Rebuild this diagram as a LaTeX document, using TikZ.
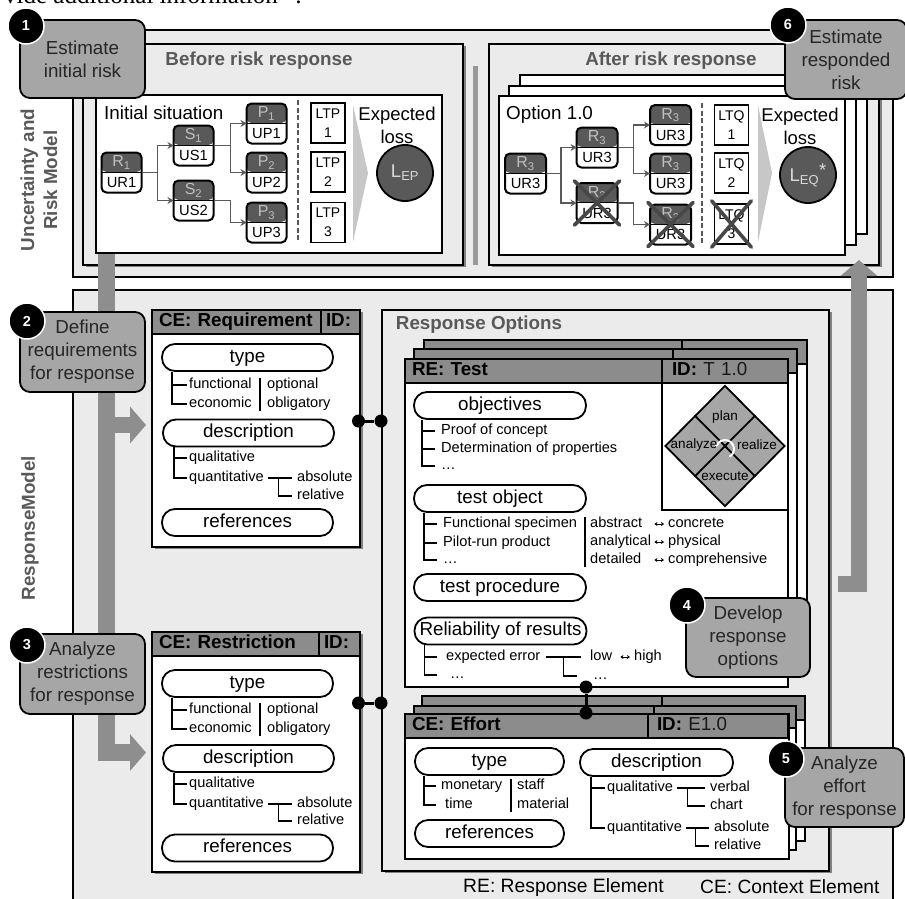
\documentclass[tikz,border=0pt]{standalone}
\usepackage{fontspec}
\setmainfont{Liberation Sans}
\newfontfamily\bookfont{Liberation Serif}
\usetikzlibrary{shapes.geometric,shadows,arrows.meta,calc}
\definecolor{panelgray}{HTML}{EBEBEB}
\definecolor{headgray}{HTML}{8C8C8C}
\definecolor{darkgray}{HTML}{595959}
\definecolor{stepgray}{HTML}{A6A6A6}
\definecolor{flowgray}{HTML}{8E8E8E}
\begin{document}
\begin{tikzpicture}[
    x = 1pt,
    y = -1pt,
    >=stealth,
    panel/.style = {rectangle, draw=black, line width=1.8pt, fill=panelgray,
              anchor=north west, inner sep=0pt, outer sep=0pt},
    sheet/.style = {panel, fill=white},
    shade/.style = {drop shadow={shadow xshift=2.5pt, shadow yshift=-2pt,
              opacity=0.45, fill=black}},
    head/.style = {panel, fill=headgray, align=left, inner xsep=7pt, minimum height=24pt,
              text height=13pt, text depth=4pt, font=\fontsize{18.8}{23}\selectfont\bfseries},
    title/.style = {text=darkgray, inner sep=0pt, font=\fontsize{18.8}{23}\selectfont\bfseries},
    plain/.style = {inner sep=0pt, align=center, font=\fontsize{18.8}{23}\selectfont},
    callout/.style = {rectangle, rounded corners=10pt, draw=black, line width=1.8pt,
              fill=stepgray, text=black!85, align=center, inner sep=0pt,
              font=\fontsize{18.8}{23}\selectfont},
    stepnum/.style = {circle, fill=black, draw=white, line width=1.5pt, text=white,
              minimum size=36pt, inner sep=0pt, font=\fontsize{14.5}{15}\selectfont\bfseries},
    pill/.style = {rectangle, rounded corners=13pt, draw=black, line width=1.8pt, fill=white,
              minimum height=27pt, inner sep=0pt, text height=13pt, text depth=4pt,
              font=\fontsize{18.8}{23}\selectfont},
    item/.style = {anchor=west, inner ysep=0pt, inner xsep=2pt, text height=10pt, text depth=3pt,
              font=\fontsize{14.6}{16}\selectfont},
    itemfar/.style = {item, inner xsep=6pt},
    tree/.style = {draw=black, line width=1.3pt},
    gap/.style = {shorten <=2pt, shorten >=3pt},
    pair/.style = {<->, draw=black, line width=0.8pt, >={Stealth[length=3pt,width=4pt]}},
    riskbox/.style = {rectangle, rounded corners=5pt, draw=black, line width=2pt, fill=white,
              minimum width=40pt, minimum height=40pt, inner sep=0pt, outer sep=0pt,
              path picture={\fill[darkgray] (path picture bounding box.north west)
                rectangle ([yshift=-19.5pt]path picture bounding box.north east);
                \draw[black, line width=0.8pt] ([yshift=-19.5pt]path picture bounding box.north west)
                -- ([yshift=-19.5pt]path picture bounding box.north east);}},
    risktop/.style = {yshift=10pt, text=black!25, inner sep=0pt, font=\fontsize{16}{16}\selectfont},
    riskbot/.style = {yshift=-10pt, inner sep=0pt, font=\fontsize{14.7}{15}\selectfont},
    lossbox/.style = {rectangle, draw=black, line width=1.8pt, fill=white, align=center,
              minimum width=34pt, minimum height=40pt, inner sep=0pt,
              font=\fontsize{14}{19}\selectfont},
    lossdot/.style = {circle, draw=black, line width=1.8pt, fill=darkgray, text=black!15,
              minimum size=56pt, inner sep=0pt, font=\fontsize{18.5}{20}\selectfont},
    link/.style = {->, draw=darkgray, line width=1.5pt, >={Stealth[length=6pt,width=7pt]}},
    dashline/.style = {draw=darkgray, line width=1.8pt, dash pattern=on 5pt off 2.5pt},
    cross/.style = {draw=black!72, line width=3.6pt, line cap=round, shorten <=-3pt, shorten >=-3pt},
    dot/.style = {circle, fill=black, minimum size=13pt, inner sep=0pt},
    bond/.style = {draw=black, line width=3pt},
    flow/.style = {draw=flowgray, line width=16.5pt},
    flowtip/.style = {flow, -{Triangle[length=16pt,width=36pt]}},
    ]

\useasboundingbox (0,0) rectangle (905,898);

\node[anchor=base west, inner sep=0pt, font=\fontsize{25}{25}\selectfont\bookfont] (cut_line) at (4,3.5) {vide additional information” :};

% uncertainty and risk model
\node[panel, minimum width=820pt, minimum height=247pt] (risk_model) at (73,30){};
\node[panel, minimum width=820pt, minimum height=620pt] (response_model) at (73,290){};

\node[title, rotate=90, align=center] (risk_label) at (39,180) {Uncertainty and\\Risk Model};
\node[title, rotate=90] (response_label) at (30,528) {ResponseModel};

\node[panel, shade, minimum width=380pt, minimum height=221pt] (before) at (83,44){};
\node[sheet, minimum width=346pt, minimum height=158pt] (before_sheet) at (96,95){};
\node[title] (before_title) at (259,61) {Before risk response};
\node[plain, anchor=west] (initial) at (104,112.5) {Initial situation};

\node[riskbox, label={[risktop]center:R\textsubscript{1}}, label={[riskbot]center:UR1}] (R_1) at (121.5,172.5){};
\node[riskbox, label={[risktop]center:S\textsubscript{1}}, label={[riskbot]center:US1}] (S_1) at (193.5,145.5){};
\node[riskbox, label={[risktop]center:S\textsubscript{2}}, label={[riskbot]center:US2}] (S_2) at (193.5,200.5){};
\node[riskbox, label={[risktop]center:P\textsubscript{1}}, label={[riskbot]center:UP1}] (P_1) at (266.5,123.5){};
\node[riskbox, label={[risktop]center:P\textsubscript{2}}, label={[riskbot]center:UP2}] (P_2) at (266.5,172.5){};
\node[riskbox, label={[risktop]center:P\textsubscript{3}}, label={[riskbot]center:UP3}] (P_3) at (266.5,222.5){};
\draw[link] (R_1.east) -- ++(16,0) |- (S_1.west);
\draw[link] (R_1.east) -- ++(16,0) |- (S_2.west);
\draw[link] (S_1.east) -- ++(17,0) |- (P_1.west);
\draw[link] (S_1.east) -- ++(17,0) |- (P_2.west);
\draw[link] (S_2.east) -- ++(17,0) |- (P_3.west);

\coordinate (before_dash_a) at (298,100);
\coordinate (before_dash_b) at (298,242);
\draw[dashline] (before_dash_a) -- (before_dash_b);

\node[lossbox] (LTP_1) at (328,123) {LTP\\1};
\node[lossbox] (LTP_2) at (328,172) {LTP\\2};
\node[lossbox] (LTP_3) at (328,222.5) {LTP\\3};
\fill[black!22] (353,105) -- (368,173) -- (353,242) -- cycle;
\node[plain, font=\fontsize{18.5}{23}\selectfont] (before_loss) at (397,125.5) {Expected\\loss};
\node[lossdot] (L_EP) at (405,173) {L\textsubscript{EP}};

% after the response
\node[panel, shade, minimum width=390pt, minimum height=221pt] (after) at (489,44){};
\node[rectangle, fill=black!40, minimum width=5pt, minimum height=199pt, inner sep=0pt, anchor=north] (split_bar) at (475,66){};
\node[title] (after_title) at (671,61) {After risk response};
\node[sheet, minimum width=347pt, minimum height=159pt] (after_back) at (520,75){};
\node[sheet, minimum width=347pt, minimum height=159pt] (after_mid) at (509,86){};
\node[sheet, minimum width=346pt, minimum height=159pt] (after_sheet) at (499,96){};
\node[plain, anchor=west] (option) at (506,115) {Option 1.0};

\node[riskbox, minimum width=41pt, label={[risktop]center:R\textsubscript{3}}, label={[riskbot]center:UR3}] (Q_1) at (525.5,173.5){};
\node[riskbox, minimum width=41pt, label={[risktop]center:R\textsubscript{3}}, label={[riskbot]center:UR3}] (Q_2) at (597,147.5){};
\node[riskbox, minimum width=41pt, label={[risktop]center:R\textsubscript{3}}, label={[riskbot]center:UR3}] (Q_3) at (597,203){};
\node[riskbox, minimum width=41pt, label={[risktop]center:R\textsubscript{3}}, label={[riskbot]center:UR3}] (Q_4) at (670.5,125){};
\node[riskbox, minimum width=41pt, label={[risktop]center:R\textsubscript{3}}, label={[riskbot]center:UR3}] (Q_5) at (670.5,173.5){};
\node[riskbox, minimum width=41pt, label={[risktop]center:R\textsubscript{3}}, label={[riskbot]center:UR3}] (Q_6) at (670.5,224.5){};
\draw[link] (Q_1.east) -- ++(15,0) |- (Q_2.west);
\draw[link] (Q_1.east) -- ++(15,0) |- (Q_3.west);
\draw[link] (Q_2.east) -- ++(16,0) |- (Q_4.west);
\draw[link] (Q_2.east) -- ++(16,0) |- (Q_5.west);
\draw[link] (Q_3.east) -- ++(16,0) |- (Q_6.west);

\coordinate (after_dash_a) at (702,103);
\coordinate (after_dash_b) at (702,243);
\draw[dashline] (after_dash_a) -- (after_dash_b);

\node[lossbox] (LTQ_1) at (731.5,125) {LTQ\\1};
\node[lossbox] (LTQ_2) at (731.5,173) {LTQ\\2};
\node[lossbox] (LTQ_3) at (731.5,224) {LTQ\\3};
\fill[black!22] (758,105) -- (772,173) -- (758,242) -- cycle;
\node[plain, font=\fontsize{18.5}{23}\selectfont] (after_loss) at (800,126) {Expected\\loss};
\node[lossdot] (L_EQ) at (808,175) {L\textsubscript{EQ}\raisebox{5pt}{*}};

\draw[cross] (Q_3.north west) -- (Q_3.south east);
\draw[cross] (Q_3.north east) -- (Q_3.south west);
\draw[cross] (Q_6.north west) -- (Q_6.south east);
\draw[cross] (Q_6.north east) -- (Q_6.south west);
\draw[cross] (LTQ_3.north west) -- (LTQ_3.south east);
\draw[cross] (LTQ_3.north east) -- (LTQ_3.south west);

% requirement
\node[sheet, shade, minimum width=208pt, minimum height=237pt] (req) at (152,310){};
\node[head, text width=155pt] (req_head) at (152,310) {CE: Requirement};
\node[head, inner xsep=5pt, text width=29pt] (req_id) at (321,310) {ID:};
\node[pill, minimum width=171pt] (req_type) at (247.5,357.5) {type};
\node[item] (req_func) at (187,385) {functional};
\node[item] (req_econ) at (187,404) {economic};
\node[item] (req_opt) at (265,385) {optional};
\node[item] (req_obl) at (265,404) {obligatory};
\draw[tree] ([xshift=11pt]req_type.south west) |- (req_func.west);
\draw[tree] ([xshift=11pt]req_type.south west) |- (req_econ.west);
\draw[tree] ([xshift=-5pt]req_opt.north west) -- ([xshift=-5pt]req_obl.south west);
\node[pill, minimum width=171pt] (req_desc) at (248.5,433) {description};
\node[item] (req_qual) at (187,458) {qualitative};
\node[item] (req_quan) at (187,478) {quantitative};
\node[item] (req_abs) at (295,478) {absolute};
\node[item] (req_rel) at (295,496) {relative};
\draw[tree] ([xshift=12pt]req_desc.south west) |- (req_qual.west);
\draw[tree] ([xshift=12pt]req_desc.south west) |- (req_quan.west);
\draw[tree, gap] (req_quan.east) -- (req_abs.west);
\draw[tree, shorten >=3pt] ($(req_quan.east)!0.42!(req_abs.west)$) |- (req_rel.west);
\node[pill, minimum width=171pt] (req_refs) at (247.5,522.5) {references};

% restriction
\node[sheet, shade, minimum width=208pt, minimum height=240pt] (res) at (152,632){};
\node[head, text width=153pt] (res_head) at (152,632) {CE: Restriction};
\node[head, inner xsep=5pt, text width=31pt] (res_id) at (319,632) {ID:};
\node[pill, minimum width=171pt] (res_type) at (247.5,683.5) {type};
\node[item] (res_func) at (187,710) {functional};
\node[item] (res_econ) at (187,729) {economic};
\node[item] (res_opt) at (265,710) {optional};
\node[item] (res_obl) at (265,729) {obligatory};
\draw[tree] ([xshift=11pt]res_type.south west) |- (res_func.west);
\draw[tree] ([xshift=11pt]res_type.south west) |- (res_econ.west);
\draw[tree] ([xshift=-5pt]res_opt.north west) -- ([xshift=-5pt]res_obl.south west);
\node[pill, minimum width=171pt] (res_desc) at (248.5,758.5) {description};
\node[item] (res_qual) at (187,784) {qualitative};
\node[item] (res_quan) at (187,804) {quantitative};
\node[item] (res_abs) at (295,804) {absolute};
\node[item] (res_rel) at (295,821) {relative};
\draw[tree] ([xshift=12pt]res_desc.south west) |- (res_qual.west);
\draw[tree] ([xshift=12pt]res_desc.south west) |- (res_quan.west);
\draw[tree, gap] (res_quan.east) -- (res_abs.west);
\draw[tree, shorten >=3pt] ($(res_quan.east)!0.42!(res_abs.west)$) |- (res_rel.west);
\node[pill, minimum width=171pt] (res_refs) at (247.5,848) {references};

% response options
\node[panel, shade, minimum width=447pt, minimum height=561pt] (options) at (382,310){};
\node[title] (options_title) at (479,325) {Response Options};

\node[sheet, minimum width=383pt, minimum height=318pt] (test_back) at (424,340){};
\node[head, minimum width=258pt] (test_back_a) at (424,340) {};
\node[head, minimum width=125pt] (test_back_b) at (682,340) {};
\node[sheet, minimum width=383pt, minimum height=319pt] (test_mid) at (414,349){};
\node[head, minimum width=259pt] (test_mid_a) at (414,349) {};
\node[head, minimum width=124pt] (test_mid_b) at (673,349) {};
\node[sheet, minimum width=383pt, minimum height=328pt] (test) at (405,359){};
\node[head, text width=243pt] (test_head) at (405,359) {RE: Test};
\node[head, inner xsep=10pt, text width=106pt] (test_id) at (662,359) {ID: {\mdseries\color{black!90}T 1.0}};

\node[sheet, minimum width=126pt, minimum height=127pt] (pdca_box) at (662,383){};
\node[diamond, draw=black, line width=1.8pt, fill=stepgray, minimum width=120pt, minimum height=121pt, inner sep=0pt] (pdca) at (725,446){};
\draw[black, line width=1.8pt] (pdca.north west) -- (pdca.south east);
\draw[black, line width=1.8pt] (pdca.north east) -- (pdca.south west);
\coordinate (pdca_turn) at ($(pdca.center)+(0,3)$);
\draw[white, line width=2pt, -{Stealth[length=4pt,width=5pt]}] ([shift={(-60:9pt)}]pdca_turn) arc[start angle=-60, end angle=170, radius=9pt];
\node[inner sep=0pt, font=\fontsize{13.5}{14}\selectfont] (plan) at (725,417) {plan};
\node[inner sep=0pt, font=\fontsize{13.5}{14}\selectfont] (analyze) at (694,445) {analyze};
\node[inner sep=0pt, font=\fontsize{13.5}{14}\selectfont] (realize) at (757,445) {realize};
\node[inner sep=0pt, font=\fontsize{13.5}{14}\selectfont] (execute) at (725,476) {execute};

\node[pill, minimum width=172pt] (objectives) at (500,405.5) {objectives};
\node[itemfar] (obj_a) at (435,431) {Proof of concept};
\node[itemfar] (obj_b) at (435,449) {Determination of properties};
\node[itemfar] (obj_c) at (435,466) {…};
\draw[tree] ([xshift=9pt]objectives.south west) |- (obj_a.west);
\draw[tree] ([xshift=9pt]objectives.south west) |- (obj_b.west);
\draw[tree] ([xshift=9pt]objectives.south west) |- (obj_c.west);

\node[pill, minimum width=172pt] (test_object) at (500,498.5) {test object};
\node[itemfar] (obj_d) at (437,524) {Functional specimen};
\node[itemfar] (obj_e) at (437,543) {Pilot-run product};
\node[itemfar] (obj_f) at (437,560) {…};
\draw[tree] ([xshift=11pt]test_object.south west) |- (obj_d.west);
\draw[tree] ([xshift=11pt]test_object.south west) |- (obj_e.west);
\draw[tree] ([xshift=11pt]test_object.south west) |- (obj_f.west);
\node[item, text width=62pt] (abstract) at (588,524) {abstract};
\node[item, text width=62pt] (analytical) at (588,542) {analytical};
\node[item, text width=62pt] (detailed) at (588,560) {detailed};
\node[item, inner xsep=4pt] (concrete) at (664,524) {concrete};
\node[item, inner xsep=4pt] (physical) at (664,542) {physical};
\node[item, inner xsep=4pt] (comprehensive) at (664,560) {comprehensive};
\draw[tree] ([xshift=-3pt]abstract.north west) -- ([xshift=-3pt]detailed.south west);
\draw[pair] (abstract.east) -- (concrete.west);
\draw[pair] (analytical.east) -- (physical.west);
\draw[pair] (detailed.east) -- (comprehensive.west);

\node[pill, minimum width=172pt] (test_proc) at (500,587.5) {test procedure};

\node[pill, minimum width=172pt] (reliability) at (500.5,631) {Reliability of results};
\node[itemfar, inner xsep=9pt] (rel_a) at (437,657) {expected error};
\node[itemfar, inner xsep=13pt] (rel_b) at (437,675) {…};
\node[item, inner xsep=16pt] (rel_c) at (577,676) {…};
\node[item, text width=28pt] (low) at (588,657) {low};
\node[item, inner xsep=4pt] (high) at (630,657) {high};
\draw[tree] ([xshift=11pt]reliability.south west) |- (rel_a.west);
\draw[tree] ([xshift=11pt]reliability.south west) |- (rel_b.west);
\draw[tree, shorten <=-4pt, shorten >=7pt] (rel_a.east) -- (low.west);
\draw[tree] ($(rel_a.east)!0.37!(low.west)$) |- (rel_c.west);
\draw[pair] (low.east) -- (high.west);

% effort
\node[sheet, minimum width=383pt, minimum height=145pt] (eff_back) at (422,696){};
\node[head, minimum width=240pt] (eff_back_a) at (422,696) {};
\node[head, minimum width=143pt] (eff_back_b) at (662,696) {};
\node[sheet, minimum width=382pt, minimum height=144pt] (eff_mid) at (414,706){};
\node[head, minimum width=240pt, minimum height=22pt] (eff_mid_a) at (414,706) {};
\node[head, minimum width=142pt, minimum height=22pt] (eff_mid_b) at (654,706) {};
\node[sheet, minimum width=384pt, minimum height=145pt] (eff) at (405,714){};
\node[head, text width=229pt] (eff_head) at (405,714) {CE: Effort};
\node[head, inner xsep=9pt, text width=122pt] (eff_id) at (648,714) {ID: {\mdseries\color{black!90}E1.0}};
\node[pill, minimum width=149pt] (eff_type) at (489.5,761.5) {type};
\node[item] (eff_mon) at (439,786) {monetary};
\node[item, inner xsep=6pt] (eff_time) at (439,805) {time};
\node[item] (eff_staff) at (515,786) {staff};
\node[item] (eff_mat) at (515,805) {material};
\draw[tree, shorten >=3pt] ([xshift=10pt]eff_type.south west) |- (eff_mon.west);
\draw[tree, shorten >=3pt] ([xshift=10pt]eff_type.south west) |- (eff_time.west);
\draw[tree] ([xshift=-4pt]eff_staff.north west) -- ([xshift=-4pt]eff_mat.south west);
\node[pill, minimum width=149pt] (eff_refs) at (489.5,833.5) {references};
\node[pill, minimum width=153pt] (eff_desc) at (656.5,762.5) {description};
\node[item] (eff_qual) at (605,788) {qualitative};
\node[item] (eff_quan) at (605,828) {quantitative};
\node[item] (eff_verb) at (708,788) {verbal};
\node[item] (eff_chart) at (708,806) {chart};
\node[item] (eff_abs) at (712,828) {absolute};
\node[item] (eff_rela) at (712,846) {relative};
\draw[tree] ([xshift=12pt]eff_desc.south west) |- (eff_qual.west);
\draw[tree] ([xshift=12pt]eff_desc.south west) |- (eff_quan.west);
\draw[tree, gap] (eff_qual.east) -- (eff_verb.west);
\draw[tree, shorten >=3pt] ($(eff_qual.east)!0.38!(eff_verb.west)$) |- (eff_chart.west);
\draw[tree, gap] (eff_quan.east) -- (eff_abs.west);
\draw[tree, shorten >=3pt] ($(eff_quan.east)!0.4!(eff_abs.west)$) |- (eff_rela.west);

% connectors between the elements
\node[dot] (dot_req_a) at (358.5,421){};
\node[dot] (dot_req_b) at (381,421){};
\node[dot] (dot_res_a) at (358.5,703){};
\node[dot] (dot_res_b) at (381,703){};
\node[dot] (dot_eff_a) at (586,687){};
\node[dot] (dot_eff_b) at (586,713){};
\draw[bond] (dot_req_a) -- (dot_req_b);
\draw[bond] (dot_res_a) -- (dot_res_b);
\draw[bond] (dot_eff_a) -- (dot_eff_b);

% flows
\coordinate (flow_start) at (106.5,254);
\coordinate (flow_corner) at (106.5,752.5);
\coordinate (flow_branch) at (106.5,425);
\coordinate (flow_req) at (146,425);
\coordinate (flow_res) at (146,752.5);
\draw[flowtip] (flow_start) -- (flow_corner) -- (flow_res);
\draw[flowtip] (flow_branch) -- (flow_req);
\coordinate (flow_back_a) at (838,584);
\coordinate (flow_back_b) at (859,584);
\coordinate (flow_back_c) at (859,260);
\draw[flowtip] (flow_back_a) -- (flow_back_b) -- (flow_back_c);

% notes
\node[plain, anchor=west, font=\fontsize{19.3}{23}\selectfont] (note_re) at (463,887) {RE: Response Element};
\node[plain, anchor=west, font=\fontsize{19.2}{23}\selectfont] (note_ce) at (700,887) {CE: Context Element};

% steps
\node[callout, minimum width=125pt, minimum height=78pt] (call_1) at (82.5,59) {Estimate\\initial risk};
\node[stepnum] (num_1) at (26,26) {1};
\node[callout, minimum width=125pt, minimum height=80pt] (call_2) at (82.5,352) {Define\\requirements\\for response};
\node[stepnum] (num_2) at (27,321) {2};
\node[callout, minimum width=125pt, minimum height=80pt] (call_3) at (82.5,674) {Analyze\\restrictions\\for response};
\node[stepnum] (num_3) at (27,645) {3};
\node[callout, minimum width=124pt, minimum height=79pt] (call_4) at (748,637.5) {Develop\\response\\options};
\node[stepnum] (num_4) at (687,605) {4};
\node[callout, minimum width=119pt, minimum height=79pt] (call_5) at (844.5,787.5) {Analyze\\effort\\for response};
\node[stepnum] (num_5) at (786,759) {5};
\node[callout, minimum width=122pt, minimum height=79pt] (call_6) at (846,59.5) {Estimate\\responded\\risk};
\node[stepnum] (num_6) at (788,25) {6};

\end{tikzpicture}
\end{document}
